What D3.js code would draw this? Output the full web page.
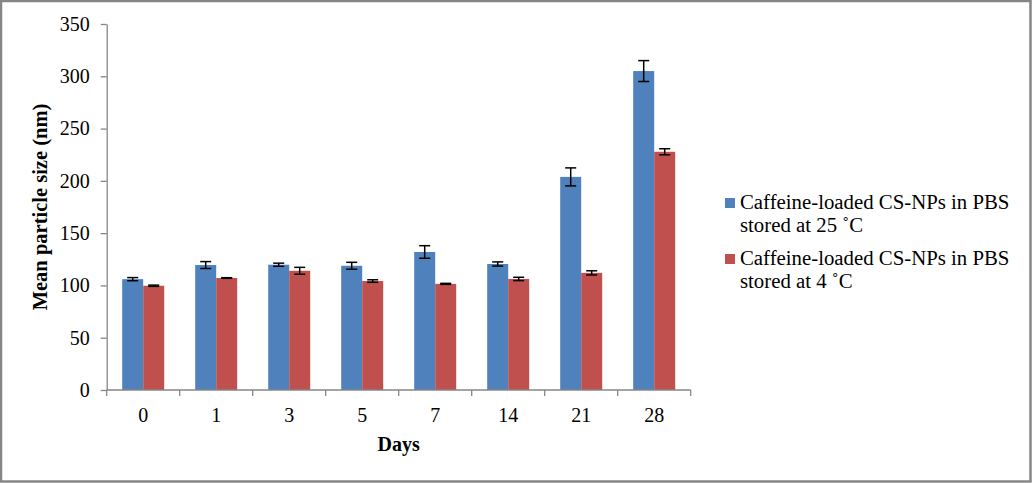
<!DOCTYPE html>
<html><head><meta charset="utf-8">
<script src="https://cdn.jsdelivr.net/npm/d3@7"></script>
<style>html,body{margin:0;padding:0;background:#fff;}svg{display:block;}</style>
</head><body>
<script>
const days = ["0","1","3","5","7","14","21","28"];
const seriesNames = ["Caffeine-loaded CS-NPs in PBS|stored at 25 ˚C", "Caffeine-loaded CS-NPs in PBS|stored at 4 ˚C"];
const values25 = [106, 119.5, 119.8, 118.8, 132, 120.5, 203.8, 305];
const errors25 = [1.5, 3.3, 1.5, 3.3, 6, 2, 8.6, 10];
const values4 = [99.7, 107.1, 114, 104.2, 101.5, 106.2, 112, 227.8];
const errors4 = [0.6, 0.3, 3.3, 1.2, 0.5, 1.6, 2, 2.9];
const yTicks = [0,50,100,150,200,250,300,350];
const colors = ["#4F81BD", "#C0504D"];

(function(){
const W = 1032, H = 483;
const svg = d3.select("body").append("svg").attr("width", W).attr("height", H);
svg.append("rect").attr("x",1).attr("y",1).attr("width",W-2.5).attr("height",H-2.5)
  .attr("fill","#fff").attr("stroke","#868686").attr("stroke-width",2.5);

const pL = 106.7, pR = 690.7, pT = 24, pB = 390;
const x = d3.scaleBand().domain(days).range([pL, pR]).paddingInner(0).paddingOuter(0);
const y = d3.scaleLinear().domain([0, 350]).range([pB, pT]);
const barW = 21;
const font = "Liberation Serif, Times New Roman, serif";

const series = [values25, values4];
const errs = [errors25, errors4];

series.forEach((vals, si) => {
  const g = svg.append("g");
  g.selectAll("rect").data(vals).join("rect")
    .attr("x", (d,i) => x(days[i]) + x.bandwidth()/2 - barW + si*barW)
    .attr("y", d => y(d))
    .attr("width", barW)
    .attr("height", d => y(0) - y(d))
    .attr("fill", colors[si]);
});

series.forEach((vals, si) => {
  const g = svg.append("g").attr("stroke","#000").attr("stroke-width",1.5);
  vals.forEach((v, i) => {
    const cx = x(days[i]) + x.bandwidth()/2 - barW/2 + si*barW;
    const e = errs[si][i];
    g.append("line").attr("x1",cx).attr("x2",cx).attr("y1",y(v+e)).attr("y2",y(v-e));
    g.append("line").attr("x1",cx-5.5).attr("x2",cx+5.5).attr("y1",y(v+e)).attr("y2",y(v+e));
    g.append("line").attr("x1",cx-5.5).attr("x2",cx+5.5).attr("y1",y(v-e)).attr("y2",y(v-e));
  });
});

// Y axis
const yAxis = d3.axisLeft(y).tickValues(yTicks).tickSize(6).tickPadding(11).tickSizeOuter(0);
const yg = svg.append("g").attr("transform",`translate(${pL},0)`).call(yAxis);
yg.attr("font-family", font);
yg.select(".domain").attr("stroke","#868686").attr("stroke-width",1.3);
yg.selectAll(".tick line").attr("stroke","#868686").attr("stroke-width",1.3);
yg.selectAll(".tick text").attr("font-family",font).attr("font-size",20).attr("fill","#000");

// X axis
const xAxis = d3.axisBottom(x).tickSize(0).tickPadding(18);
const xg = svg.append("g").attr("transform",`translate(0,${pB})`).call(xAxis);
xg.attr("font-family", font);
xg.select(".domain").attr("stroke","#868686").attr("stroke-width",1.3).attr("d", `M${pL},0H${pR}`);
xg.selectAll(".tick text").attr("font-family",font).attr("font-size",20).attr("fill","#000");
xg.append("g").selectAll("line").data(d3.range(days.length+1)).join("line")
  .attr("x1", i => pL + i*x.step()).attr("x2", i => pL + i*x.step())
  .attr("y1",0).attr("y2",6).attr("stroke","#868686").attr("stroke-width",1.3);

// Axis titles
svg.append("text").attr("x",(pL+pR)/2).attr("y",451).attr("text-anchor","middle")
  .attr("font-family",font).attr("font-size",20).attr("font-weight","bold").text("Days");
svg.append("text").attr("transform",`translate(47,${(pT+pB)/2}) rotate(-90)`).attr("text-anchor","middle")
  .attr("font-family",font).attr("font-size",20.5).attr("font-weight","bold").text("Mean particle size (nm)");

// Legend
const lg = svg.append("g");
const legY = [209, 265];
seriesNames.forEach((name, si) => {
  lg.append("rect").attr("x",725).attr("y",legY[si]-11).attr("width",10).attr("height",10).attr("fill",colors[si]);
  name.split("|").forEach((ln, li) => {
    lg.append("text").attr("x",740).attr("y",legY[si] + li*23)
      .attr("font-family",font).attr("font-size",20.8).attr("fill","#000").text(ln);
  });
});
})();
</script>
</body></html>
